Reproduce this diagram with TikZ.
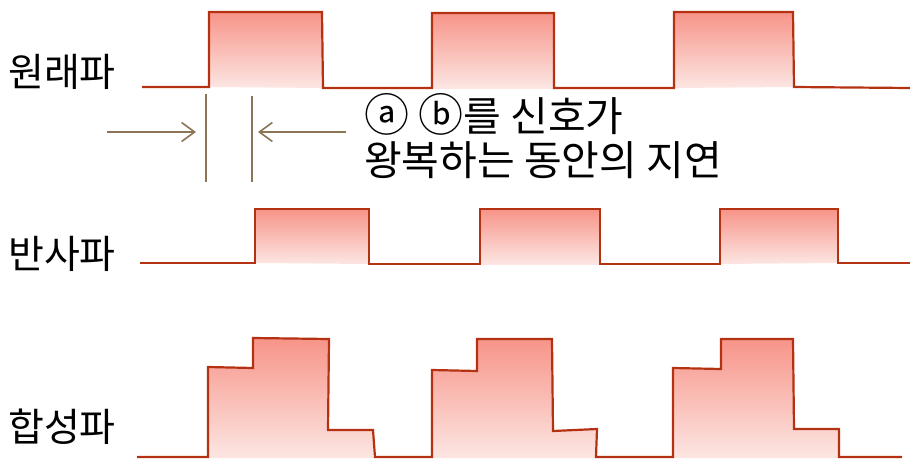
\documentclass[tikz,border=0pt]{standalone}
\usepackage{fontspec}
\setmainfont{Noto Sans CJK KR}
\usetikzlibrary{arrows.meta}
\definecolor{wave}{RGB}{180,50,18}
\definecolor{filltop}{RGB}{247,148,136}
\definecolor{fillbot}{RGB}{252,230,227}
\definecolor{marker}{RGB}{140,116,86}
\newcommand{\circbig}[1]{{\fontsize{45}{45}\selectfont #1}}
\tikzset{
  waveline/.style={draw=wave, line width=2.2pt, line join=miter},
  wavefill/.style={top color=filltop, bottom color=fillbot, draw=none},
  label/.style={font=\fontsize{39}{42}\selectfont, inner sep=0pt, anchor=base west},
  note/.style={font=\fontsize{41}{44}\selectfont, inner sep=0pt, anchor=base west},
  markline/.style={draw=marker, line width=1.6pt},
  markarrow/.style={draw=marker, line width=1.6pt, -{Straight Barb[length=13pt,width=19pt,line width=1.6pt]}}
}
\begin{document}
\begin{tikzpicture}[x=1pt,y=-1pt]
\useasboundingbox (0,0) rectangle (910,458);
% ---- row 1: original wave
\shade[wavefill] (209,87) -- (209,12) -- (322,12) -- (323,88) -- cycle;
\shade[wavefill] (432,88) -- (432,13) -- (554,13) -- (554,88) -- cycle;
\shade[wavefill] (674,88) -- (674,12) -- (793,12) -- (794,87) -- cycle;
\draw[waveline] (142,87) -- (209,87) -- (209,12) -- (322,12) -- (323,88) -- (432,88) -- (432,13) -- (554,13) -- (554,88) -- (674,88) -- (674,12) -- (793,12) -- (794,87) -- (910,88);
% ---- row 2: reflected wave
\shade[wavefill] (255,263) -- (255,209) -- (369,209) -- (369,264) -- cycle;
\shade[wavefill] (480,264) -- (480,209) -- (600,209) -- (600,264) -- cycle;
\shade[wavefill] (720,264) -- (720,209) -- (838,209) -- (838,263) -- cycle;
\draw[waveline] (140,263) -- (255,263) -- (255,209) -- (369,209) -- (369,264) -- (480,264) -- (480,209) -- (600,209) -- (600,264) -- (720,264) -- (720,209) -- (838,209) -- (838,263) -- (910,263);
% ---- row 3: combined wave
\shade[wavefill] (208,458) -- (208,367) -- (253,368) -- (253,338) -- (329,339) -- (328,430) -- (373,430) -- (375,458) -- cycle;
\shade[wavefill] (432,458) -- (432,370) -- (477,371) -- (477,339) -- (552,339) -- (553,431) -- (597,429) -- (596,458) -- cycle;
\shade[wavefill] (673,458) -- (673,368) -- (721,369) -- (721,339) -- (793,339) -- (794,429) -- (839,429) -- (839,458) -- cycle;
\draw[waveline] (137,457) -- (208,457) -- (208,367) -- (253,368) -- (253,338) -- (329,339) -- (328,430) -- (373,430) -- (375,457) -- (432,457) -- (432,370) -- (477,371) -- (477,339) -- (552,339) -- (553,431) -- (597,429) -- (596,457) -- (673,457) -- (673,368) -- (721,369) -- (721,339) -- (793,339) -- (794,429) -- (839,429) -- (839,457) -- (902,457);
% ---- delay marker
\coordinate (l1top) at (206,94);
\coordinate (l1bot) at (206,182);
\coordinate (l2top) at (252,96);
\coordinate (l2bot) at (252,182);
\coordinate (a1s) at (107,132);
\coordinate (a1e) at (196,132);
\coordinate (a2s) at (346,132);
\coordinate (a2e) at (258,132);
\draw[markline] (l1top) -- (l1bot);
\draw[markline] (l2top) -- (l2bot);
\draw[markarrow] (a1s) -- (a1e);
\draw[markarrow] (a2s) -- (a2e);
% ---- labels
\node[label] (orig) at (8,86) {원래파};
\node[label] (refl) at (8,268) {반사파};
\node[label] (comb) at (8,441) {합성파};
\node[note] (n1) at (364,131) {\circbig{ⓐ} \circbig{ⓑ}를 신호가};
\node[note] (n2) at (364,175) {왕복하는 동안의 지연};
\end{tikzpicture}
\end{document}
